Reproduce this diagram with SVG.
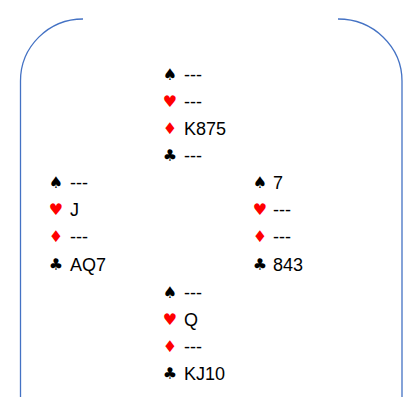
<svg xmlns="http://www.w3.org/2000/svg" width="407" height="397" viewBox="0 0 407 397">
<style>
.frame{fill:none;stroke:#4472C4;stroke-width:1.3}
.t{font-family:"Liberation Sans",Arial,sans-serif;font-size:18px;fill:#000}
.s{font-family:"DejaVu Sans",sans-serif;font-size:16px;text-anchor:middle}
.r{fill:#FF0000}
.b{fill:#000}
</style>
<rect width="407" height="397" fill="#fff"/>
<g id="connectors">
<path class="frame" d="M83,19 A62.5,62 0 0 0 20.5,81 L20.5,397"/>
<path class="frame" d="M338,19 A64,62 0 0 1 402,81 L402,397"/>
</g>
<g id="north">
<text class="s b" x="170" y="80">♠</text><text class="t" x="184" y="81">---</text>
<text class="s r" x="170" y="107">♥</text><text class="t" x="184" y="108">---</text>
<text class="s r" x="170" y="134">♦</text><text class="t" x="184" y="135">K875</text>
<text class="s b" x="170" y="161">♣</text><text class="t" x="184" y="162">---</text>
</g>
<g id="west">
<text class="s b" x="56" y="188">♠</text><text class="t" x="70" y="189">---</text>
<text class="s r" x="56" y="215">♥</text><text class="t" x="70" y="216">J</text>
<text class="s r" x="56" y="242">♦</text><text class="t" x="70" y="243">---</text>
<text class="s b" x="56" y="270">♣</text><text class="t" x="70" y="271">AQ7</text>
</g>
<g id="east">
<text class="s b" x="260" y="188">♠</text><text class="t" x="273" y="189">7</text>
<text class="s r" x="260" y="215">♥</text><text class="t" x="273" y="216">---</text>
<text class="s r" x="260" y="242">♦</text><text class="t" x="273" y="243">---</text>
<text class="s b" x="260" y="270">♣</text><text class="t" x="273" y="271">843</text>
</g>
<g id="south">
<text class="s b" x="170" y="298">♠</text><text class="t" x="184" y="299">---</text>
<text class="s r" x="170" y="325">♥</text><text class="t" x="184" y="326">Q</text>
<text class="s r" x="170" y="352">♦</text><text class="t" x="184" y="353">---</text>
<text class="s b" x="170" y="379">♣</text><text class="t" x="184" y="380">KJ10</text>
</g>
</svg>
